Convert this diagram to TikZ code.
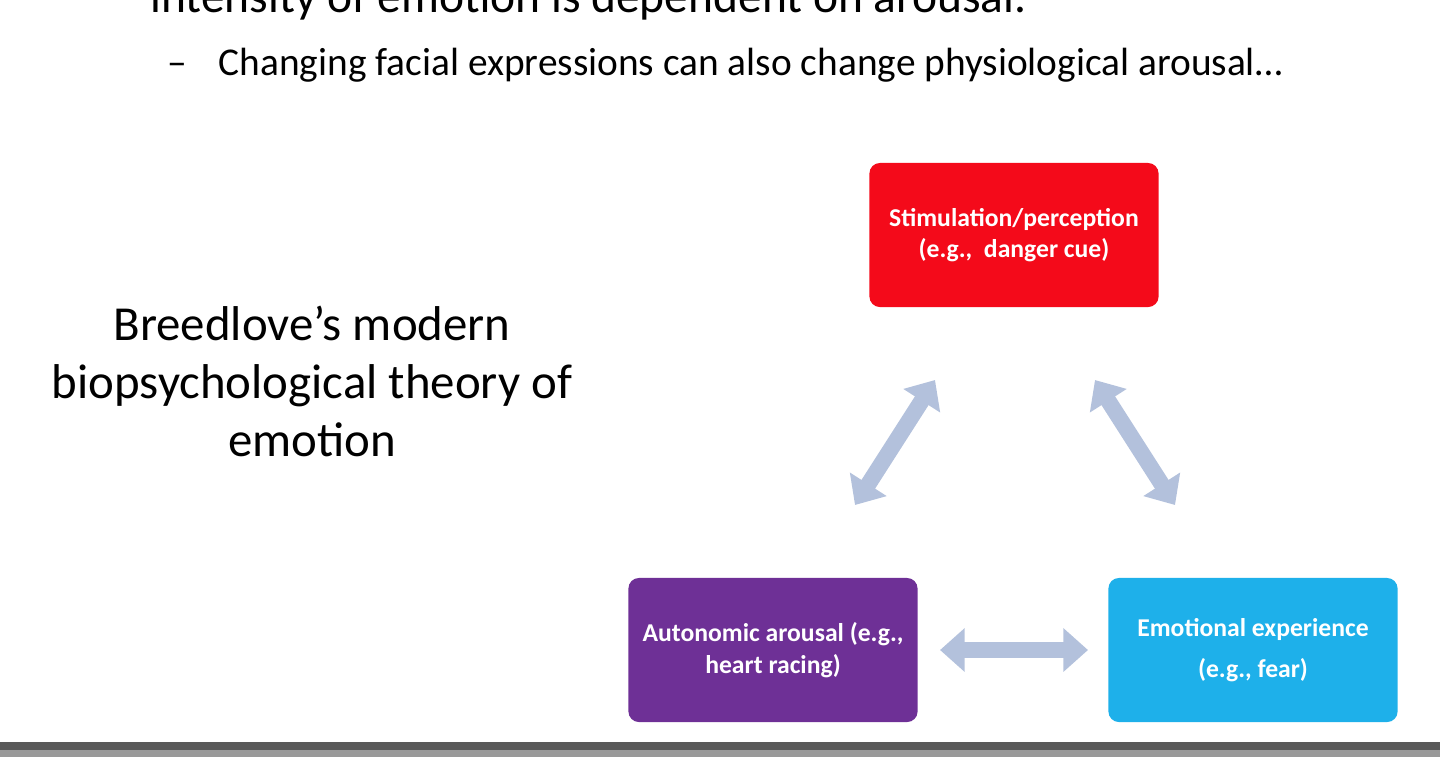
\documentclass[tikz,border=0pt]{standalone}
\usepackage{fontspec}
\setmainfont{Carlito}
\usetikzlibrary{arrows.meta,positioning}
\definecolor{stimred}{HTML}{F40A1A}
\definecolor{autopurple}{HTML}{6E3096}
\definecolor{emoblue}{HTML}{1EB0EA}
\definecolor{arrowgrey}{HTML}{B3C1DC}
\begin{document}
\begin{tikzpicture}[x=0.01cm,y=-0.01cm]
  \tikzstyle{box}=[rounded corners=3pt, minimum width=2.89cm, minimum height=1.44cm,
    text=white, align=center, font=\fontsize{7.3}{9}\selectfont\bfseries]
  \tikzstyle{fat}=[arrowgrey, line width=4.6pt,
    {Triangle[width=12pt,length=7pt]}-{Triangle[width=12pt,length=7pt]}]
  \useasboundingbox (0,0) rectangle (1440,757);
  \clip (0,0) rectangle (1440,757);
  % heading text
  \node[anchor=base west, font=\fontsize{13.5}{15}\selectfont] (head) at (138,12)
    {intensity of emotion is dependent on arousal.};
  \node[anchor=base west, font=\fontsize{11.2}{13}\selectfont] (sub) at (155,75)
    {–\hspace{0.8em}Changing facial expressions can also change physiological arousal…};
  \node[align=center, font=\fontsize{13.9}{16.5}\selectfont] (title) at (312,381)
    {Breedlove’s modern\\biopsychological theory of\\emotion};
  % boxes
  \node[box, fill=stimred] (stim) at (1014,235)
    {Stimulation/perception\\(e.g.,~ danger cue)};
  \node[box, fill=autopurple] (auto) at (773,650)
    {Autonomic arousal (e.g.,\\heart racing)};
  \node[box, fill=emoblue, font=\fontsize{7.3}{11.5}\selectfont\bfseries] (emo) at (1253,650)
    {Emotional experience\\(e.g., fear)};
  % arrows
  \coordinate (la) at (855,505);
  \coordinate (lb) at (935,380);
  \coordinate (ra) at (1095,380);
  \coordinate (rb) at (1175,505);
  \coordinate (ba) at (940,650);
  \coordinate (bb) at (1088,650);
  \draw[fat] (la) -- (lb);
  \draw[fat] (ra) -- (rb);
  \draw[fat] (ba) -- (bb);
  % bottom bar
  \fill[black!65] (0,742) rectangle (1440,757);
  \fill[black!40] (0,750) rectangle (1440,757);
\end{tikzpicture}
\end{document}
